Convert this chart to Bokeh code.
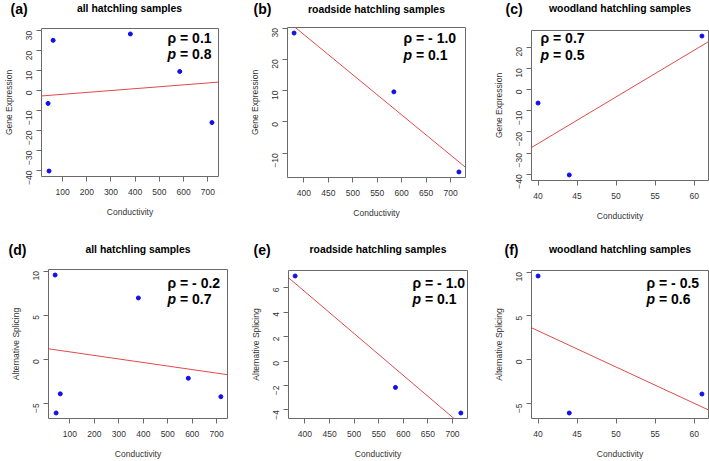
import math
import numpy as np
from bokeh.plotting import figure
from bokeh.layouts import column, row
from bokeh.models import Label, FixedTicker, Range1d
from bokeh.embed import file_html
from bokeh.resources import INLINE

# Sample measurements: conductivity of the collection site and per-sample scores
woodland_cond = [40, 44, 61]
roadside_cond = [380, 584, 717]
woodland_expr = [-6.4, -40.3, 25.2]
roadside_expr = [28.4, 9.6, -16.0]
woodland_splice = [9.55, -6.1, -3.93]
roadside_splice = [6.95, -2.16, -4.25]

panel_tags = ["(a)", "(b)", "(c)", "(d)", "(e)", "(f)"]
panel_titles = ["all hatchling samples", "roadside hatchling samples", "woodland hatchling samples",
                "all hatchling samples", "roadside hatchling samples", "woodland hatchling samples"]
rho_labels = ["ρ = 0.1", "ρ = - 1.0", "ρ = 0.7", "ρ = - 0.2", "ρ = - 1.0", "ρ = - 0.5"]
p_values = ["= 0.8", "= 0.1", "= 0.5", "= 0.7", "= 0.1", "= 0.6"]
y_titles = ["Gene Expression"] * 3 + ["Alternative Splicing"] * 3
x_title = "Conductivity"

x_ticks_all = [100, 200, 300, 400, 500, 600, 700]
x_ticks_road = [400, 450, 500, 550, 600, 650, 700]
x_ticks_wood = [40, 45, 50, 55, 60]
y_ticks_expr_all = [-40, -30, -20, -10, 0, 10, 20, 30]
y_ticks_expr_road = [-10, 0, 10, 20, 30]
y_ticks_expr_wood = [-40, -30, -20, -10, 0, 10, 20]
y_ticks_splice = [-5, 0, 5, 10]
y_ticks_splice_road = [-4, -2, 0, 2, 4, 6]

FONT = "Liberation Sans"
BOX = "#6a6a6a"
TXT = "#333333"
POINT = "#1010e8"
FIT = "#e04a4a"

panels = [
    (woodland_cond + roadside_cond, woodland_expr + roadside_expr, x_ticks_all, y_ticks_expr_all),
    (roadside_cond, roadside_expr, x_ticks_road, y_ticks_expr_road),
    (woodland_cond, woodland_expr, x_ticks_wood, y_ticks_expr_wood),
    (woodland_cond + roadside_cond, woodland_splice + roadside_splice, x_ticks_all, y_ticks_splice),
    (roadside_cond, roadside_splice, x_ticks_road, y_ticks_splice_road),
    (woodland_cond, woodland_splice, x_ticks_wood, y_ticks_splice),
]

# header strip height, plot canvas size, borders (left, right, top, bottom),
# tag position and title row (header coords), stats block (x, y1, y2) in plot canvas coords
layout_spec = [
    dict(hh=18, w=236, h=212, b=(40, 18, 10, 54), tag=(10, 8), ty=8, stat=(167, 19, 35)),
    dict(hh=18, w=236, h=212, b=(51, 7, 9, 53), tag=(17, 8.5), ty=8.5, stat=(167, 19, 36)),
    dict(hh=18, w=237, h=212, b=(59, 1, 12, 50), tag=(33, 8), ty=8, stat=(68, 19, 36)),
    dict(hh=30, w=236, h=201, b=(48, 9, 9, 43), tag=(8, 19), ty=19, stat=(167, 22.5, 38)),
    dict(hh=30, w=236, h=201, b=(52, 5, 10, 42), tag=(17, 19), ty=19, stat=(176, 22.5, 38)),
    dict(hh=30, w=237, h=201, b=(59, 1, 10, 42), tag=(32, 19), ty=19, stat=(174, 22, 38)),
]


def padded(vals, frac=0.04):
    lo, hi = min(vals), max(vals)
    d = (hi - lo) * frac
    return lo - d, hi + d


def add_text(p, x, y, text, size, style="normal", align="left", color="#000000", units="canvas"):
    p.add_layout(Label(x=x, y=y, x_units=units, y_units=units, text=text,
                       text_font=FONT, text_font_size=size, text_font_style=style,
                       text_align=align, text_baseline="middle", text_color=color))


def make_header(i):
    spec = layout_spec[i]
    w, hh = spec["w"], spec["hh"]
    bl, br = spec["b"][0], spec["b"][1]
    hdr = figure(width=w, height=hh, title=None, output_backend="svg", toolbar_location=None,
                 x_range=Range1d(0, w), y_range=Range1d(hh, 0),
                 x_axis_type=None, y_axis_type=None, min_border=0, frame_align=False)
    hdr.outline_line_color = None
    hdr.xgrid.visible = False
    hdr.ygrid.visible = False
    add_text(hdr, spec["tag"][0], spec["tag"][1], panel_tags[i], "14px", "bold")
    add_text(hdr, bl + (w - bl - br) / 2, spec["ty"], panel_titles[i], "10.4px", "bold",
             align="center")
    return hdr


def make_panel(i):
    xs, ys, xt, yt = panels[i]
    spec = layout_spec[i]
    bl, br, bt, bb = spec["b"]
    w, h = spec["w"], spec["h"]
    x0, x1 = padded(xs)
    y0, y1 = padded(ys)

    p = figure(width=w, height=h, title=None, output_backend="svg", toolbar_location=None,
               x_range=Range1d(x0, x1), y_range=Range1d(y0, y1), frame_align=False,
               min_border_left=bl, min_border_right=br, min_border_top=bt, min_border_bottom=bb)
    p.background_fill_color = "white"
    p.border_fill_color = "white"
    p.outline_line_color = BOX
    p.outline_line_width = 1
    p.xgrid.visible = False
    p.ygrid.visible = False

    p.xaxis.ticker = FixedTicker(ticks=xt)
    p.yaxis.ticker = FixedTicker(ticks=yt)
    for ax in (p.xaxis[0], p.yaxis[0]):
        ax.axis_line_color = None
        ax.major_tick_line_color = BOX
        ax.major_tick_out = 5
        ax.major_tick_in = 0
        ax.minor_tick_line_color = None
        ax.major_label_text_font = FONT
        ax.major_label_text_font_size = "8.5px"
        ax.major_label_text_color = TXT
        ax.axis_label_text_font = FONT
        ax.axis_label_text_font_size = "8.5px"
        ax.axis_label_text_font_style = "normal"
        ax.axis_label_text_color = TXT
    p.yaxis.major_label_orientation = math.pi / 2
    p.xaxis.major_label_standoff = 7
    p.yaxis.major_label_standoff = 7
    p.xaxis.axis_label = x_title
    p.yaxis.axis_label = y_titles[i]
    p.xaxis.axis_label_standoff = 9
    p.yaxis.axis_label_standoff = 7

    # least-squares fit line across the whole plotting region
    slope, icpt = np.polyfit(np.array(xs, float), np.array(ys, float), 1)
    p.line([x0, x1], [icpt + slope * x0, icpt + slope * x1], color=FIT, line_width=1)
    p.scatter(xs, ys, size=4, color=POINT, marker="circle")

    sx, sy1, sy2 = spec["stat"]
    add_text(p, sx, sy1, rho_labels[i], "14px", "bold")
    add_text(p, sx, sy2, "p", "14px", "bold italic")
    add_text(p, sx + 12.5, sy2, p_values[i], "14px", "bold")
    return p


cells = [column(make_header(i), make_panel(i), spacing=0) for i in range(6)]
layout = column(row(*cells[:3], spacing=0), row(*cells[3:], spacing=0), spacing=0)

open("out.html", "w").write(file_html(layout, INLINE))
